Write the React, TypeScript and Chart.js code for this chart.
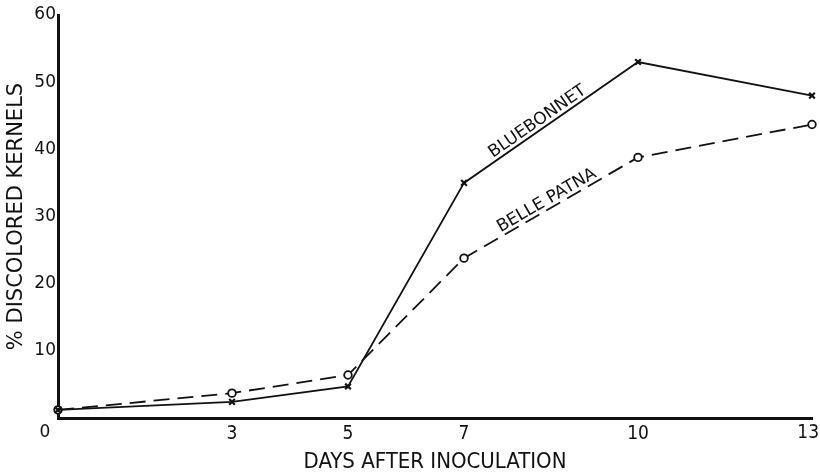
import React, { useEffect, useRef } from "react";
import { Chart, registerables } from "chart.js";

Chart.register(...registerables);

// ---- data ----
const days = [0, 3, 5, 7, 10, 13];
const bluebonnet = [1.2, 2.4, 4.7, 35, 53, 48];
const bellePatna = [1.2, 3.7, 6.4, 23.8, 38.8, 43.7];
const xTickValues = [0, 3, 5, 7, 10, 13];
const yTickValues = [0, 10, 20, 30, 40, 50, 60];
const seriesNames = ["BLUEBONNET", "BELLE PATNA"];

// day at which each in-chart series label is centred along its own line
const labelDays = [8.35, 8.5];

const INK = "#111";
const X_TICK_FONT = "19px 'Liberation Sans Narrow', 'DejaVu Sans Condensed'";

const seriesLabelPlugin = {
  id: "seriesLabels",
  afterDatasetsDraw(chart: any) {
    const { ctx, scales } = chart;
    const xs = scales.x;
    ctx.save();
    ctx.fillStyle = INK;
    ctx.font = "17px 'DejaVu Sans'";
    ctx.textAlign = "center";
    ctx.textBaseline = "alphabetic";
    seriesNames.forEach((name, i) => {
      const pts = chart.getDatasetMeta(i).data;
      const d = labelDays[i];
      let k = 0;
      while (k < days.length - 2 && days[k + 1] < d) k++;
      const p0 = pts[k];
      const p1 = pts[k + 1];
      const t = (d - days[k]) / (days[k + 1] - days[k]);
      const px = p0.x + (p1.x - p0.x) * t;
      const py = p0.y + (p1.y - p0.y) * t;
      const ang = Math.atan2(p1.y - p0.y, p1.x - p0.x);
      ctx.save();
      ctx.translate(px, py);
      ctx.rotate(ang);
      ctx.fillText(name, 0, -4);
      ctx.restore();
    });
    // origin "0" label, set left of the origin
    ctx.font = "17px 'DejaVu Sans'";
    ctx.textAlign = "center";
    ctx.textBaseline = "middle";
    ctx.fillText("0", xs.getPixelForValue(0) - 13, xs.top + 15);
    // last x tick, kept inside the canvas edge
    const last = xTickValues[xTickValues.length - 1];
    ctx.font = X_TICK_FONT;
    ctx.textAlign = "right";
    const lx = Math.min(xs.getPixelForValue(last) + 9, chart.width - 1);
    ctx.fillText(String(last), lx, xs.top + 15);
    ctx.restore();
  },
};

export default function App() {
  const ref = useRef<HTMLCanvasElement | null>(null);

  useEffect(() => {
    if (!ref.current) return;
    const lastTick = xTickValues[xTickValues.length - 1];
    const chart = new Chart(ref.current, {
      type: "line",
      data: {
        datasets: [
          {
            label: seriesNames[0],
            data: days.map((d, i) => ({ x: d, y: bluebonnet[i] })),
            borderColor: INK,
            borderWidth: 1.8,
            pointStyle: "crossRot",
            pointRadius: 4,
            pointBorderWidth: 2.2,
            pointBorderColor: INK,
            tension: 0,
            clip: false,
          },
          {
            label: seriesNames[1],
            data: days.map((d, i) => ({ x: d, y: bellePatna[i] })),
            borderColor: INK,
            borderWidth: 1.8,
            borderDash: [16, 8],
            pointStyle: "circle",
            pointRadius: 3.8,
            pointBorderWidth: 1.8,
            pointBorderColor: INK,
            pointBackgroundColor: "#fff",
            tension: 0,
            clip: false,
          },
        ],
      },
      options: {
        responsive: false,
        animation: false,
        layout: { padding: { top: 15, right: 8, left: 0, bottom: 0 } },
        plugins: {
          legend: { display: false },
          tooltip: { enabled: false },
        },
        scales: {
          x: {
            type: "linear",
            min: 0,
            max: 13,
            grid: { display: false, drawTicks: false },
            border: { display: true, color: INK, width: 3 },
            afterBuildTicks: (scale: any) => {
              scale.ticks = xTickValues.map((v) => ({ value: v }));
            },
            afterFit: (scale: any) => {
              scale.height = 57;
              scale.paddingRight = 0;
              scale.paddingLeft = 0;
            },
            ticks: {
              color: INK,
              font: { family: "'Liberation Sans Narrow', 'DejaVu Sans Condensed'", size: 19 },
              padding: 5,
              maxRotation: 0,
              autoSkip: false,
              callback: (v: any) => (v === 0 || v === lastTick ? "" : String(v)),
            },
            title: {
              display: true,
              text: "DAYS AFTER INOCULATION",
              color: INK,
              font: { family: "'DejaVu Sans Condensed'", size: 22 },
              padding: { top: 4, bottom: 0 },
            },
          },
          y: {
            min: 0,
            max: 60,
            grid: { display: false, drawTicks: false },
            border: { display: true, color: INK, width: 3 },
            afterBuildTicks: (scale: any) => {
              scale.ticks = yTickValues.map((v) => ({ value: v }));
            },
            afterFit: (scale: any) => {
              scale.width = 58;
            },
            ticks: {
              color: INK,
              font: { family: "'DejaVu Sans'", size: 17 },
              padding: 2,
              callback: (v: any) => (v === 0 ? "" : String(v)),
            },
            title: {
              display: true,
              text: "% DISCOLORED KERNELS",
              color: INK,
              font: { family: "'DejaVu Sans'", size: 21 },
              padding: { top: 4, bottom: 0 },
            },
          },
        },
      },
      plugins: [seriesLabelPlugin],
    });
    return () => chart.destroy();
  }, []);

  return (
    <div style={{ position: "fixed", left: 0, top: 0, width: 820, height: 475, background: "#fff" }}>
      <canvas ref={ref} width={820} height={475} style={{ width: 820, height: 475 }} />
    </div>
  );
}
